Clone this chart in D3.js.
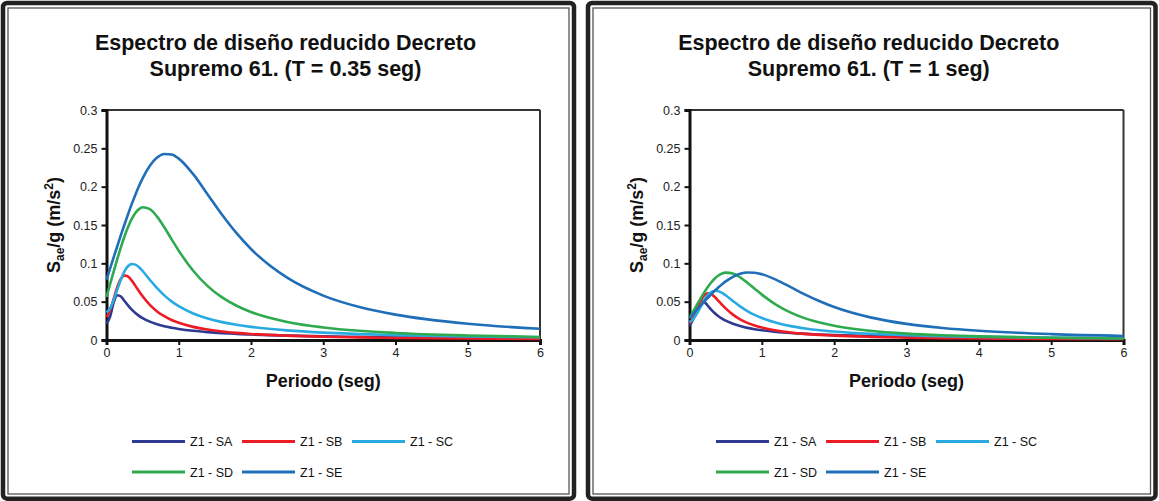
<!DOCTYPE html>
<html>
<head>
<meta charset="utf-8">
<script src="https://cdn.jsdelivr.net/npm/d3@7"></script>
<style>
  html, body { margin: 0; padding: 0; background: #fff; }
  svg { display: block; font-family: "Liberation Sans", Arial, sans-serif; }
</style>
</head>
<body>
<svg id="chart" width="1159" height="501"></svg>
<script>
// ---------- data ----------
const periods = [0, 0.05, 0.1, 0.15, 0.2, 0.25, 0.3, 0.35, 0.4, 0.45, 0.5, 0.6, 0.7, 0.8, 0.9, 1.0,
                 1.2, 1.4, 1.6, 1.8, 2.0, 2.5, 3.0, 3.5, 4.0, 5.0, 6.0];
const seriesNames = ["Z1 - SA", "Z1 - SB", "Z1 - SC", "Z1 - SD", "Z1 - SE"];
const seriesColors = ["#2e3a92", "#ed1c24", "#29abe2", "#2eaa4f", "#1f6fb8"];
const xTicks = [0, 1, 2, 3, 4, 5, 6];
const yTicks = [0, 0.05, 0.1, 0.15, 0.2, 0.25, 0.3];
const titlesLeft = ["Espectro de diseño reducido Decreto", "Supremo 61. (T = 0.35 seg)"];
const titlesRight = ["Espectro de diseño reducido Decreto", "Supremo 61. (T = 1 seg)"];

// T* = 0.35 s
const left_SA = [0.0212, 0.0307, 0.0492, 0.0584, 0.0567, 0.0509, 0.0448, 0.0395, 0.0351, 0.0315, 0.0285, 0.0239, 0.0205, 0.0179, 0.0160, 0.0144,
                 0.0120, 0.0103, 0.0090, 0.0080, 0.0072, 0.0057, 0.0048, 0.0041, 0.0036, 0.0029, 0.0024];
const left_SB = [0.0300, 0.0390, 0.0540, 0.0691, 0.0799, 0.0841, 0.0826, 0.0774, 0.0706, 0.0636, 0.0570, 0.0458, 0.0373, 0.0310, 0.0261, 0.0224,
                 0.0171, 0.0136, 0.0111, 0.0093, 0.0079, 0.0057, 0.0043, 0.0034, 0.0028, 0.0020, 0.0015];
const left_SC = [0.0358, 0.0414, 0.0524, 0.0658, 0.0790, 0.0897, 0.0965, 0.0992, 0.0983, 0.0949, 0.0900, 0.0785, 0.0676, 0.0582, 0.0504, 0.0441,
                 0.0346, 0.0280, 0.0233, 0.0198, 0.0171, 0.0125, 0.0096, 0.0078, 0.0064, 0.0047, 0.0036];
const left_SD = [0.0561, 0.0729, 0.0896, 0.1058, 0.1211, 0.1353, 0.1477, 0.1579, 0.1656, 0.1707, 0.1731, 0.1707, 0.1609, 0.1470, 0.1316, 0.1165,
                 0.0903, 0.0703, 0.0555, 0.0447, 0.0365, 0.0236, 0.0164, 0.0120, 0.0092, 0.0059, 0.0040];
const left_SE = [0.0786, 0.0934, 0.1081, 0.1226, 0.1370, 0.1510, 0.1645, 0.1775, 0.1896, 0.2008, 0.2108, 0.2272, 0.2379, 0.2427, 0.2420, 0.2366,
                 0.2163, 0.1899, 0.1633, 0.1393, 0.1187, 0.0813, 0.0579, 0.0430, 0.0331, 0.0212, 0.0147];

// T* = 1 s
const right_SA = [0.0187, 0.0271, 0.0435, 0.0516, 0.0501, 0.0450, 0.0396, 0.0349, 0.0310, 0.0278, 0.0252, 0.0211, 0.0181, 0.0158, 0.0141, 0.0127,
                  0.0106, 0.0091, 0.0080, 0.0071, 0.0064, 0.0050, 0.0042, 0.0036, 0.0032, 0.0026, 0.0021];
const right_SB = [0.0217, 0.0282, 0.0390, 0.0500, 0.0578, 0.0608, 0.0597, 0.0560, 0.0510, 0.0460, 0.0412, 0.0331, 0.0270, 0.0224, 0.0189, 0.0162,
                  0.0124, 0.0098, 0.0080, 0.0067, 0.0057, 0.0041, 0.0031, 0.0025, 0.0020, 0.0014, 0.0011];
const right_SC = [0.0232, 0.0268, 0.0340, 0.0426, 0.0512, 0.0581, 0.0625, 0.0643, 0.0637, 0.0615, 0.0583, 0.0509, 0.0438, 0.0377, 0.0327, 0.0286,
                  0.0224, 0.0181, 0.0151, 0.0128, 0.0111, 0.0081, 0.0062, 0.0051, 0.0041, 0.0030, 0.0023];
const right_SD = [0.0285, 0.0370, 0.0455, 0.0537, 0.0615, 0.0687, 0.0750, 0.0802, 0.0841, 0.0867, 0.0879, 0.0867, 0.0817, 0.0747, 0.0669, 0.0592,
                  0.0459, 0.0357, 0.0282, 0.0227, 0.0185, 0.0120, 0.0083, 0.0061, 0.0047, 0.0030, 0.0020];
const right_SE = [0.0285, 0.0339, 0.0392, 0.0445, 0.0497, 0.0548, 0.0596, 0.0644, 0.0687, 0.0728, 0.0764, 0.0824, 0.0863, 0.0880, 0.0877, 0.0858,
                  0.0784, 0.0689, 0.0592, 0.0505, 0.0430, 0.0295, 0.0210, 0.0156, 0.0120, 0.0077, 0.0053];

// ---------- drawing ----------
const svg = d3.select("#chart");
svg.append("rect").attr("width", 1159).attr("height", 501).attr("fill", "#fff");

const panels = [
  { x0: 3, x1: 574, plotL: 106.5, plotR: 540, titles: titlesLeft, legendX: 132,
    series: [left_SA, left_SB, left_SC, left_SD, left_SE] },
  { x0: 588, x1: 1155.5, plotL: 689.5, plotR: 1123.5, titles: titlesRight, legendX: 716,
    series: [right_SA, right_SB, right_SC, right_SD, right_SE] }
];
const plotT = 110, plotB = 340;

panels.forEach(p => {
  const g = svg.append("g");
  // frames
  g.append("rect").attr("x", p.x0).attr("y", 3).attr("width", p.x1 - p.x0).attr("height", 495.7)
    .attr("rx", 4).attr("fill", "none").attr("stroke", "#222").attr("stroke-width", 4.5);
  g.append("rect").attr("x", p.x0 + 5).attr("y", 8).attr("width", p.x1 - p.x0 - 10).attr("height", 486)
    .attr("fill", "none").attr("stroke", "#555").attr("stroke-width", 1.3);

  const cx = (p.x0 + p.x1) / 2 - 3;
  g.append("text").attr("x", cx).attr("y", 49.5).attr("text-anchor", "middle")
    .attr("font-size", 21.5).attr("font-weight", "bold").attr("fill", "#111").text(p.titles[0]);
  g.append("text").attr("x", cx).attr("y", 75.5).attr("text-anchor", "middle")
    .attr("font-size", 21.5).attr("font-weight", "bold").attr("fill", "#111").text(p.titles[1]);

  const x = d3.scaleLinear().domain([0, 6]).range([p.plotL, p.plotR]);
  const y = d3.scaleLinear().domain([0, 0.3]).range([plotB, plotT]);

  // plot frame (top/right thinner)
  g.append("line").attr("x1", p.plotL).attr("x2", p.plotR).attr("y1", plotT).attr("y2", plotT)
    .attr("stroke", "#333").attr("stroke-width", 2);
  g.append("line").attr("x1", p.plotR).attr("x2", p.plotR).attr("y1", plotT).attr("y2", plotB)
    .attr("stroke", "#333").attr("stroke-width", 2);

  // axes
  const yAxis = d3.axisLeft(y).tickValues(yTicks).tickSize(5).tickPadding(4)
    .tickFormat(d => d3.format("")(+d.toFixed(2)));
  const gy = g.append("g").attr("transform", `translate(${p.plotL},0)`).call(yAxis);
  gy.select(".domain").attr("stroke", "#111").attr("stroke-width", 3);
  gy.selectAll(".tick line").attr("stroke", "#111").attr("stroke-width", 2);
  gy.selectAll(".tick text").attr("font-size", 12.5).attr("fill", "#222")
    .attr("font-family", "'Liberation Sans', Arial, sans-serif");

  const xAxis = d3.axisBottom(x).tickValues(xTicks).tickSize(5).tickPadding(3).tickFormat(d3.format("d"));
  const gx = g.append("g").attr("transform", `translate(0,${plotB})`).call(xAxis);
  gx.select(".domain").attr("stroke", "#111").attr("stroke-width", 3);
  gx.selectAll(".tick line").attr("stroke", "#111").attr("stroke-width", 2);
  gx.selectAll(".tick text").attr("font-size", 12.5).attr("fill", "#222")
    .attr("font-family", "'Liberation Sans', Arial, sans-serif");

  // axis titles
  const yt = g.append("text")
    .attr("transform", `translate(${p.plotL - 47},${(plotT + plotB) / 2}) rotate(-90)`)
    .attr("text-anchor", "middle").attr("font-size", 18).attr("font-weight", "bold").attr("fill", "#111");
  yt.append("tspan").text("S");
  yt.append("tspan").attr("font-size", 12).attr("dy", 4).text("ae");
  yt.append("tspan").attr("dy", -4).text("/g (m/s");
  yt.append("tspan").attr("font-size", 12).attr("dy", -7).text("2");
  yt.append("tspan").attr("dy", 7).text(")");

  g.append("text").attr("x", (p.plotL + p.plotR) / 2).attr("y", 387).attr("text-anchor", "middle")
    .attr("font-size", 18).attr("font-weight", "bold").attr("fill", "#111").text("Periodo (seg)");

  // series
  const line = d3.line().x((d, i) => x(periods[i])).y(d => y(d)).curve(d3.curveMonotoneX);
  p.series.forEach((vals, k) => {
    g.append("path").datum(vals).attr("d", line).attr("fill", "none")
      .attr("stroke", seriesColors[k]).attr("stroke-width", 2.6).attr("stroke-linejoin", "round");
  });

  // legend
  seriesNames.forEach((name, k) => {
    const col = k % 3, row = Math.floor(k / 3);
    const lx = p.legendX + col * 110, ly = 441.5 + row * 30.5;
    g.append("line").attr("x1", lx).attr("x2", lx + 53).attr("y1", ly).attr("y2", ly)
      .attr("stroke", seriesColors[k]).attr("stroke-width", 3);
    g.append("text").attr("x", lx + 58).attr("y", ly + 4.5).attr("font-size", 12.5).attr("fill", "#111").text(name);
  });
});
</script>
</body>
</html>
